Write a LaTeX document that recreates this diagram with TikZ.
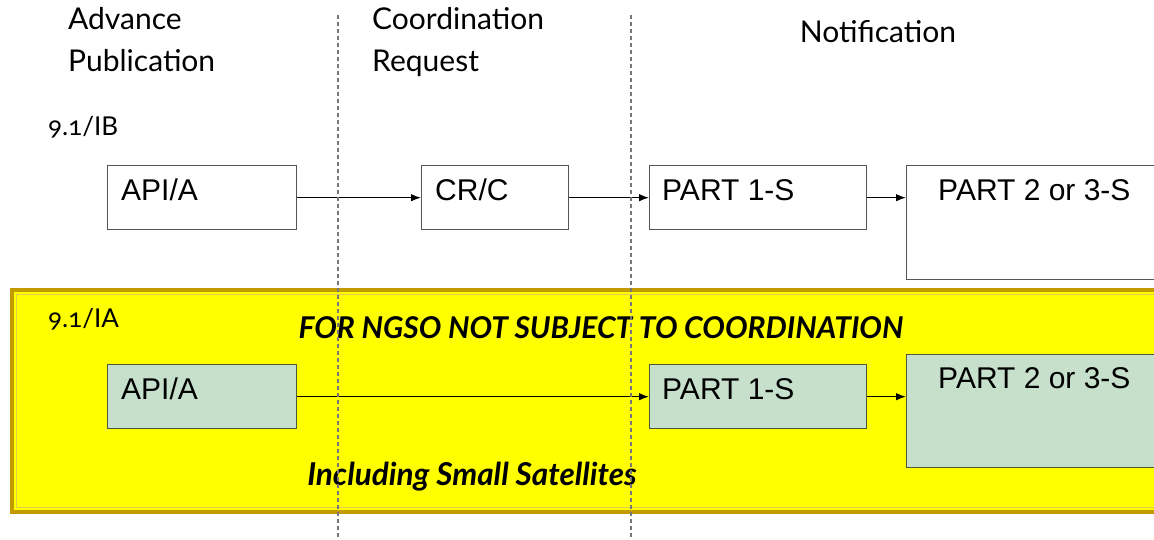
\documentclass[tikz,border=0pt]{standalone}
\usepackage{fontspec}
\setmainfont{Liberation Sans}
\newfontfamily\hdrfont{Lato}
\newfontfamily\numfont[Numbers=OldStyle]{Lato}
\usetikzlibrary{arrows.meta}
\definecolor{bandyellow}{HTML}{FFFF00}
\definecolor{bandgold}{HTML}{C39A00}
\definecolor{bandgoldlight}{HTML}{E6C84A}
\definecolor{boxgreen}{HTML}{C6E0CB}
\definecolor{boxedge}{HTML}{555555}
\definecolor{greenedge}{HTML}{4F5A3C}
\definecolor{dashgray}{HTML}{777777}
\tikzset{
  plainbox/.style={draw=boxedge, line width=1.4pt, fill=white, inner sep=0pt},
  greenbox/.style={draw=greenedge, line width=1.4pt, fill=boxgreen, inner sep=0pt},
  boxtext/.style={anchor=north west, inner sep=0pt, font=\fontsize{30}{34}\selectfont},
  header/.style={anchor=north west, inner sep=0pt, align=left, font=\hdrfont\fontsize{30}{42}\selectfont},
  tag/.style={anchor=north west, inner sep=0pt, font=\numfont\fontsize{26}{28}\selectfont},
  emph/.style={inner sep=0pt, font=\hdrfont\bfseries\itshape\fontsize{30}{32}\selectfont},
  flow/.style={line width=1.2pt, -{Latex[length=10pt,width=7.5pt]}},
  divider/.style={draw=dashgray, line width=1.3pt, dash pattern=on 4pt off 3pt}
}
\begin{document}
\begin{tikzpicture}[x=1pt,y=-1pt]
\useasboundingbox (0,0) rectangle (1154,540);
% headers
\node[header] (hA) at (68,7) {Advance\\Publication};
\node[header] (hC) at (372,7) {Coordination\\Request};
\node[header, anchor=north] (hN) at (878,20) {Notification};
% yellow band
\fill[bandyellow] (12,290) rectangle (1160,512);
\draw[bandgold, line width=4pt] (1160,290) -- (12,290) -- (12,512) -- (1160,512);
\draw[bandgoldlight, line width=1.2pt] (1160,294.5) -- (16.5,294.5) -- (16.5,507.5) -- (1160,507.5);
% tags
\node[tag] (tB) at (48,116) {9.1/IB};
\node[tag] (tA) at (48,308) {9.1/IA};
% top row
\node[plainbox, minimum width=189pt, minimum height=64pt, anchor=north west] (a1) at (107,165) {};
\node[plainbox, minimum width=147pt, minimum height=64pt, anchor=north west] (c1) at (421,165) {};
\node[plainbox, minimum width=217pt, minimum height=64pt, anchor=north west] (p1) at (649,165) {};
\node[plainbox, minimum width=260pt, minimum height=114pt, anchor=north west] (q1) at (906,165) {};
\node[boxtext] (a1t) at (121,179) {API/A};
\node[boxtext] (c1t) at (435,179) {CR/C};
\node[boxtext] (p1t) at (662,179) {PART 1-S};
\node[boxtext] (q1t) at (938,179) {PART 2 or 3-S};
\draw[flow] (a1.east) -- (c1.west);
\draw[flow] (c1.east) -- (p1.west);
\draw[flow] (p1.east) -- (p1.east -| q1.west);
% bottom row
\node[greenbox, minimum width=189pt, minimum height=64pt, anchor=north west] (a2) at (107,364) {};
\node[greenbox, minimum width=217pt, minimum height=64pt, anchor=north west] (p2) at (649,364) {};
\node[greenbox, minimum width=260pt, minimum height=113pt, anchor=north west] (q2) at (906,354) {};
\node[boxtext] (a2t) at (121,378) {API/A};
\node[boxtext] (p2t) at (662,378) {PART 1-S};
\node[boxtext] (q2t) at (938,367) {PART 2 or 3-S};
\draw[flow] (a2.east) -- (p2.west);
\draw[flow] (p2.east) -- (p2.east -| q2.west);
% emphasis texts
\node[emph] (ngso) at (601,328) {FOR NGSO NOT SUBJECT TO COORDINATION};
\node[emph, font=\hdrfont\bfseries\itshape\fontsize{31.5}{34}\selectfont] (small) at (472,477) {Including Small Satellites};
% dividers
\coordinate (d1t) at (338,15);
\coordinate (d1b) at (338,540);
\coordinate (d2t) at (631,15);
\coordinate (d2b) at (631,540);
\draw[divider] (d1t) -- (d1b);
\draw[divider] (d2t) -- (d2b);
\end{tikzpicture}
\end{document}
